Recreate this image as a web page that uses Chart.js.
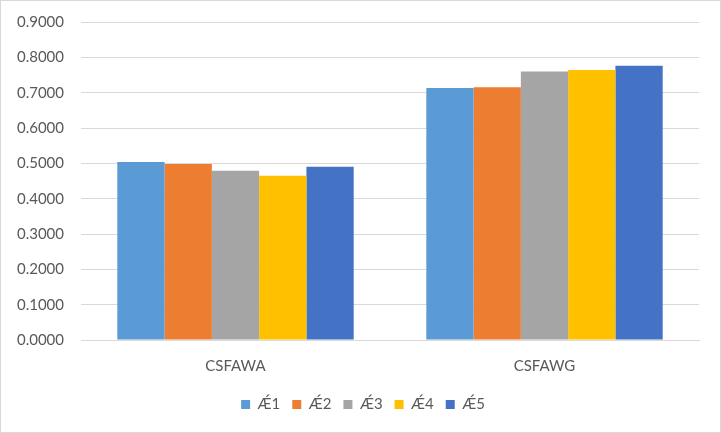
<!DOCTYPE html>
<html>
<head>
<meta charset="utf-8">
<script src="https://cdn.jsdelivr.net/npm/chart.js@4/dist/chart.umd.min.js"></script>
<style>
  body { margin: 0; background: #fff; }
  #wrap { width: 721px; height: 433px; box-sizing: border-box; border: 1px solid #d9d9d9; }
</style>
</head>
<body>
<div id="wrap"><canvas id="chart" width="719" height="431"></canvas></div>
<script>
const categories = ["CSFAWA", "CSFAWG"]
const seriesNames = ["Ǽ1", "Ǽ2", "Ǽ3", "Ǽ4", "Ǽ5"]
const s1 = [0.504, 0.713]
const s2 = [0.498, 0.715]
const s3 = [0.479, 0.760]
const s4 = [0.465, 0.764]
const s5 = [0.490, 0.776]
const colors = ["#5B9BD5", "#ED7D31", "#A5A5A5", "#FFC000", "#4472C4"]

const values = [s1, s2, s3, s4, s5]
const font = "Lato, 'Liberation Sans', sans-serif"

// legend sits a bit right of centre in the original, nudge it over
const legendNudge = {
    id: 'legendNudge',
    afterLayout(chart) {
        chart.legend.left += 8
        chart.legend.right += 8
    }
}

new Chart('chart', {
    type: 'bar',
    data: {
        labels: categories,
        datasets: values.map((v, i) => ({
            label: seriesNames[i],
            data: v,
            backgroundColor: colors[i],
            borderWidth: 0,
            categoryPercentage: 0.765,
            barPercentage: 1
        }))
    },
    options: {
        responsive: false,
        animation: false,
        layout: { padding: { left: 10, right: 21, top: 21, bottom: 10 } },
        scales: {
            y: {
                min: 0,
                max: 0.9,
                afterFit: s => {
                    s.width = 70
                    s.paddingTop = 5
                    s.paddingBottom = 5
                },
                ticks: {
                    stepSize: 0.1,
                    padding: 17,
                    color: '#595959',
                    font: { family: font, size: 15 },
                    callback: v => v.toFixed(4)
                },
                grid: { color: '#d9d9d9', drawTicks: false },
                border: { display: false }
            },
            x: {
                afterFit: s => { s.height = s.height - 7 },
                ticks: {
                    padding: 17,
                    color: '#595959',
                    font: { family: font, size: 15 }
                },
                grid: { display: false, drawTicks: false },
                border: { color: '#d9d9d9' }
            }
        },
        plugins: {
            legend: {
                position: 'bottom',
                labels: {
                    boxWidth: 9,
                    boxHeight: 9,
                    padding: 12,
                    color: '#595959',
                    font: { family: font, size: 15 }
                }
            },
            tooltip: { enabled: false }
        }
    },
    plugins: [legendNudge]
})
</script>
</body>
</html>
